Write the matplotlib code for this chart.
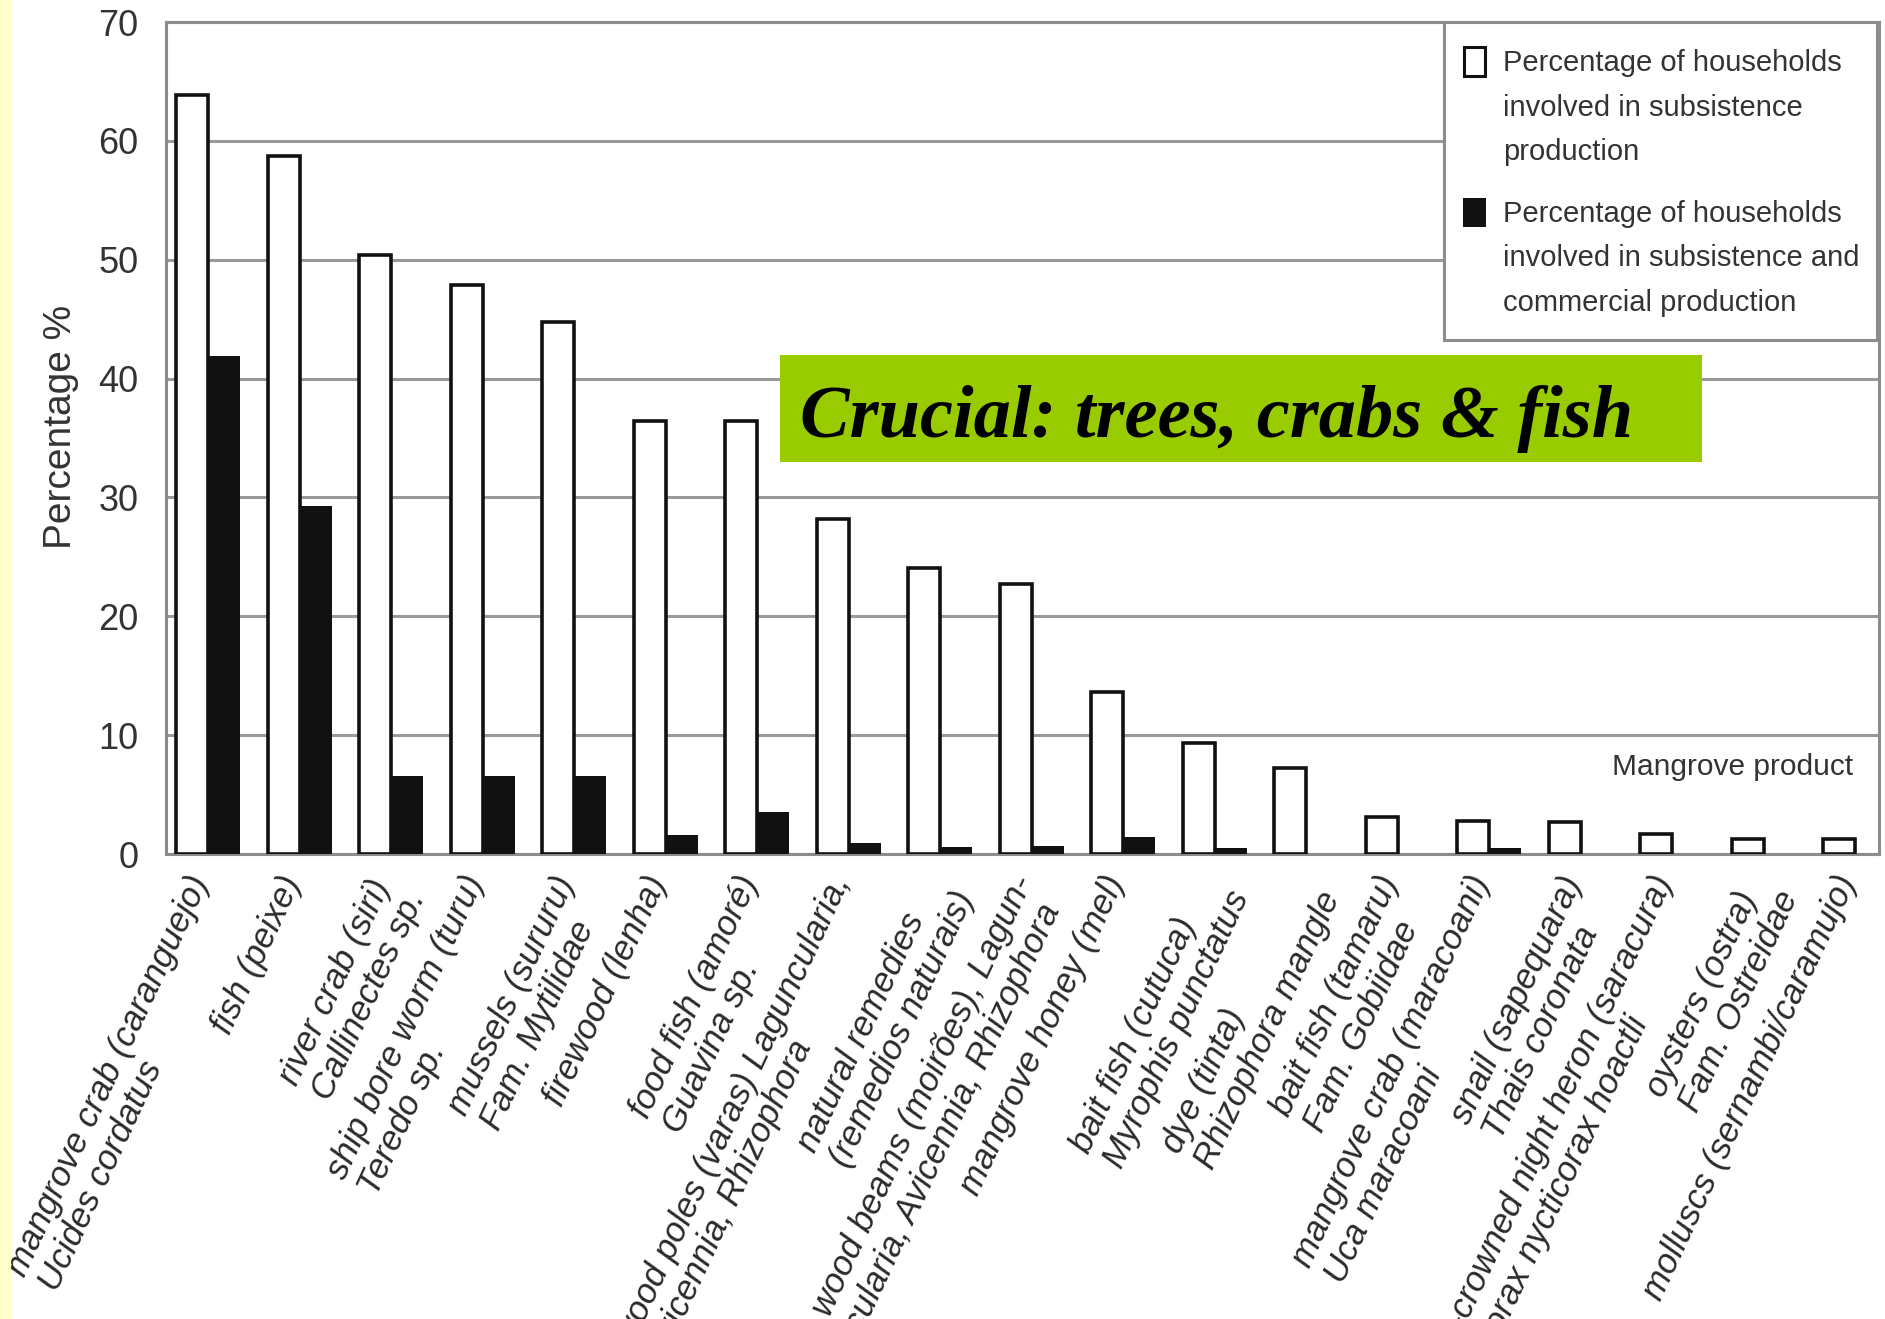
import matplotlib
matplotlib.use("Agg")
import matplotlib.pyplot as plt
import matplotlib.transforms as mtransforms
import numpy as np
from matplotlib import font_manager
from matplotlib.patches import Rectangle

# --- data ---
products = [
    "mangrove crab (caranguejo)\nUcides cordatus",
    "fish (peixe)",
    "river crab (siri)\nCallinectes sp.",
    "ship bore worm (turu)\nTeredo sp.",
    "mussels (sururu)\nFam. Mytilidae",
    "firewood (lenha)",
    "food fish (amoré)\nGuavina sp.",
    "wood poles (varas) Laguncularia,\nAvicennia, Rhizophora",
    "natural remedies\n(remedios naturais)",
    "wood beams (moirões), Lagun-\ncularia, Avicennia, Rhizophora",
    "mangrove honey (mel)",
    "bait fish (cutuca)\nMyrophis punctatus",
    "dye (tinta)\nRhizophora mangle",
    "bait fish (tamaru)\nFam. Gobiidae",
    "mangrove crab (maracoani)\nUca maracoani",
    "snail (sapequara)\nThais coronata",
    "black-crowned night heron (saracura)\nNycticorax nycticorax hoactli",
    "oysters (ostra)\nFam. Ostreidae",
    "molluscs (sernambi/caramujo)",
]
subsistence = [63.9, 58.7, 50.4, 47.9, 44.8, 36.4, 36.4, 28.2, 24.1, 22.7,
               13.6, 9.3, 7.2, 3.1, 2.8, 2.7, 1.7, 1.3, 1.3]
commercial = [41.9, 29.3, 6.6, 6.6, 6.6, 1.6, 3.5, 0.9, 0.6, 0.7,
              1.4, 0.5, 0, 0, 0.5, 0, 0, 0, 0]
legend_labels = [
    "Percentage of households\ninvolved in subsistence\nproduction",
    "Percentage of households\ninvolved in subsistence and\ncommercial production",
]
yticks = [0, 10, 20, 30, 40, 50, 60, 70]

# narrow sans if we have it (the original looks like Arial Narrow)
installed = {f.name for f in font_manager.fontManager.ttflist}
narrow = "Liberation Sans Narrow" if "Liberation Sans Narrow" in installed else "Liberation Sans"

W, H = 1885, 1319
fig = plt.figure(figsize=(W / 100, H / 100), dpi=100)
ax = fig.add_axes([166 / W, 1 - 854 / H, 1713 / W, 832 / H])


def fbox(x0, y0, x1, y1):
    # pixel box (top-left origin) -> figure fraction (x, y, w, h)
    return x0 / W, 1 - y1 / H, (x1 - x0) / W, (y1 - y0) / H


def fig_rect(box, **kw):
    x0, y0, bw, bh = fbox(*box)
    fig.add_artist(Rectangle((x0, y0), bw, bh, transform=fig.transFigure, **kw))


# pale yellow strip on the left edge of the slide
fig_rect((0, 0, 11, H), facecolor="#FFFFCC", edgecolor="none")

x = np.arange(len(products))
w = 0.35
ax.bar(x - w / 2, subsistence, w, facecolor="white", edgecolor="#111111",
       linewidth=2.6, zorder=3)
ax.bar(x + w / 2, commercial, w, facecolor="#111111", edgecolor="none", zorder=3)

ax.set_xlim(-0.46, 18.26)
ax.set_ylim(0, 70)
ax.set_yticks(yticks)
ax.set_axisbelow(True)
ax.yaxis.grid(True, color="#9a9a9a", linewidth=2.2)
for s in ax.spines.values():
    s.set_color("#8c8c8c")
    s.set_linewidth(2.2)

ax.tick_params(axis="y", length=0, pad=20, labelsize=26, labelcolor="#333333")
ax.tick_params(axis="x", length=0, pad=12)
for lab in ax.get_yticklabels():
    lab.set_fontfamily(narrow)

ax.set_xticks(x)
ax.set_xticklabels(products, rotation=65, ha="right", va="top",
                   rotation_mode="anchor", multialignment="left",
                   fontstyle="italic", fontsize=25, color="#2a2a2a",
                   family="Liberation Sans", linespacing=1.12)
shift = mtransforms.ScaledTranslation(-0.22, 0, fig.dpi_scale_trans)
for lab in ax.get_xticklabels():
    lab.set_transform(lab.get_transform() + shift)

ax.set_ylabel("Percentage %", fontsize=28, color="#333333", family="Liberation Sans")
ax.yaxis.set_label_coords(-0.051, 0.513)

ax.text(17.98, 7.3, "Mangrove product", ha="right", va="center",
        fontsize=21.5, family=narrow, color="#333333", zorder=4)

# legend box (top right, handle next to the first line of each entry)
fig_rect((1444, 22, 1877, 340), facecolor="white", edgecolor="#8c8c8c",
         linewidth=2.2, zorder=5)
fig_rect((1464, 47, 1485, 76), facecolor="white", edgecolor="#111111",
         linewidth=2.2, zorder=6)
fig_rect((1463, 198, 1486, 227), facecolor="#111111", edgecolor="none", zorder=6)
for lbl, top in zip(legend_labels, [49, 200]):
    fig.text(1503 / W, 1 - top / H, lbl, ha="left", va="top", family=narrow,
             fontsize=21, linespacing=1.75, color="#333333", zorder=7)

# green call-out box
fig_rect((780, 355, 1702, 462), facecolor="#99CC00", edgecolor="none", zorder=10)
fig.text(800 / W, 1 - 437 / H, "Crucial: trees, crabs & fish",
         family="Liberation Serif", fontweight="bold", fontstyle="italic",
         fontsize=53.6, color="black", ha="left", va="baseline", zorder=11)

fig.savefig("out.png", dpi=100)
